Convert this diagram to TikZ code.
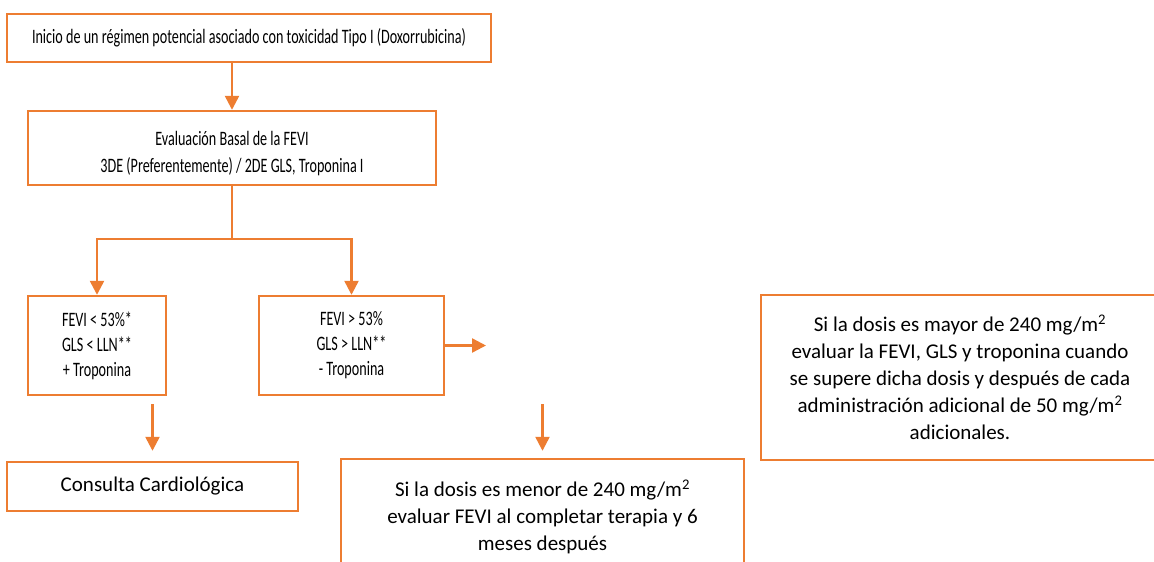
\documentclass[tikz,border=0pt]{standalone}
\usepackage{fontspec}
\setmainfont{Carlito}
\newfontfamily\estrecha[FakeStretch=0.69]{Carlito}
\usetikzlibrary{arrows.meta}
\definecolor{naranja}{HTML}{ED7D31}

\tikzset{caja/.style={draw=naranja, line width=2.4pt, align=center, inner sep=0pt},
         angosta/.style={caja, font=\fontsize{20.5}{26}\estrecha},
         ancha/.style={caja, font=\fontsize{21}{27}\selectfont},
         flecha/.style={draw=naranja, line width=2.4pt, -{Triangle[width=14pt,length=14pt]}}}

\begin{document}
\begin{tikzpicture}[x=1pt, y=-1pt]
  \useasboundingbox (0,0) rectangle (1154,562);
  \clip (0,0) rectangle (1154,562);
  \node[angosta, minimum width=484, minimum height=48] (inicio) at (249,38)
    {Inicio de un régimen potencial asociado con toxicidad Tipo I (Doxorrubicina)};
  \node[angosta, minimum width=408, minimum height=74, font=\fontsize{20.5}{27}\estrecha] (basal) at (232,148)
    {\rule{0pt}{26pt}Evaluación Basal de la FEVI\\3DE (Preferentemente) / 2DE GLS, Troponina I};
  \node[angosta, minimum width=138, minimum height=99, font=\fontsize{20.5}{25}\estrecha] (bajo) at (97,345.5)
    {FEVI < 53\%*\\GLS < LLN**\\+ Troponina};
  \node[angosta, minimum width=185, minimum height=99, font=\fontsize{20.5}{25}\estrecha] (alto) at (351.5,345.5)
    {FEVI > 53\%\\GLS > LLN**\\- Troponina};
  \node[ancha, minimum width=398, minimum height=165] (mayor) at (960,377.5)
    {Si la dosis es mayor de 240 mg/m\textsuperscript{2}\\evaluar la FEVI, GLS y troponina cuando\\se supere dicha dosis y después de cada\\administración adicional de 50 mg/m\textsuperscript{2}\\adicionales.};
  \node[ancha, minimum width=403, minimum height=116] (menor) at (542.5,517)
    {Si la dosis es menor de 240 mg/m\textsuperscript{2}\\evaluar FEVI al completar terapia y 6\\meses después};
  \node[ancha, minimum width=291, minimum height=49] (consulta) at (152.5,486.5) {Consulta Cardiológica};

  \coordinate (rama) at (232,239);
  \coordinate (punta) at (486,345.5);
  \draw[flecha] (inicio.south -| basal.north) -- (basal.north);
  \draw[draw=naranja, line width=2.4pt] (basal.south) -- (rama);
  \draw[flecha] (rama) -| (bajo.north);
  \draw[flecha] (rama) -| (alto.north);
  \draw[flecha] (alto.east) -- (punta);
  \draw[flecha] ([yshift=-8pt]bajo.south -| consulta.north) -- ([yshift=10pt]consulta.north);
  \draw[flecha] ([yshift=-8pt]alto.south -| menor.north) -- ([yshift=7pt]menor.north);
\end{tikzpicture}
\end{document}
